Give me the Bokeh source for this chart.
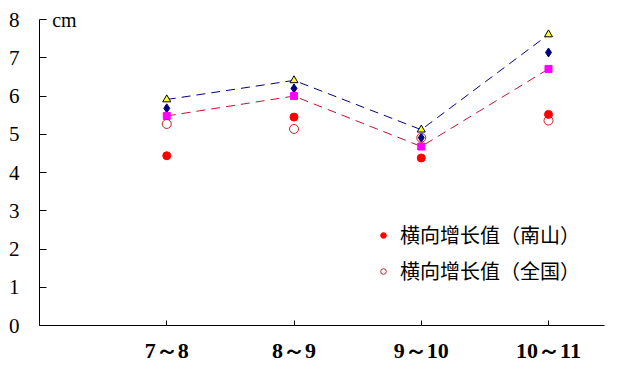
from bokeh.plotting import figure
from bokeh.models import FixedTicker, Range1d, Legend, LegendItem, Label
from bokeh.embed import file_html
from bokeh.resources import INLINE

categories = ["7～8", "8～9", "9～10", "10～11"]
xpos = [1, 2, 3, 4]
nanshan = [4.44, 5.45, 4.38, 5.52]      # 横向增长值（南山）
national = [5.27, 5.14, 4.91, 5.36]     # 横向增长值（全国）
series_tri = [5.91, 6.41, 5.12, 7.61]   # 黄色三角（蓝虚线）
series_dia = [5.68, 6.20, 4.91, 7.14]   # 深蓝菱形
series_sq = [5.48, 6.00, 4.68, 6.71]    # 品红方块（红虚线）
yticks = [0, 1, 2, 3, 4, 5, 6, 7, 8]

p = figure(width=619, height=382, output_backend="svg", toolbar_location=None,
           x_range=Range1d(0, 4.44), y_range=Range1d(0, 8.29),
           min_border_left=39, min_border_right=15, min_border_top=8, min_border_bottom=57)
p.outline_line_color = None
p.grid.grid_line_color = None
p.background_fill_color = "white"
p.border_fill_color = "white"

# lines
p.line(xpos, series_tri, line_color="#000080", line_width=1, line_dash="9 6")
p.line(xpos, series_sq, line_color="#c8102e", line_width=1, line_dash="9 6")

r_tri = p.scatter(xpos, series_tri, marker="triangle", size=8, fill_color="#ffff33",
                  line_color="black", line_width=1)
r_dia = p.scatter(xpos, series_dia, marker="diamond", size=9, fill_color="#000080",
                  line_color="#000080")
r_sq = p.scatter(xpos, series_sq, marker="square", size=7, fill_color="#ff00ff",
                 line_color="#ff00ff")
r_nat = p.scatter(xpos, national, marker="circle", size=9, fill_color=None,
                  line_color="#cc2020", line_width=1)
r_ns = p.scatter(xpos, nanshan, marker="circle", size=8, fill_color="#ff0000",
                 line_color="#ff0000")

# axes
xa = p.xaxis[0]
xa.ticker = FixedTicker(ticks=xpos)
xa.major_label_overrides = {x: c for x, c in zip(xpos, categories)}
xa.major_tick_in = 5
xa.major_tick_out = 0
xa.minor_tick_line_color = None
xa.axis_line_color = "black"
xa.major_label_standoff = 12
xa.major_label_text_font = "Liberation Serif"
xa.major_label_text_font_style = "bold"
xa.major_label_text_font_size = "22px"
xa.major_label_text_color = "black"

ya = p.yaxis[0]
ya.ticker = FixedTicker(ticks=yticks)
ya.bounds = (0, 8)
ya.major_tick_in = 7
ya.major_tick_out = 0
ya.minor_tick_line_color = None
ya.axis_line_color = "black"
ya.major_label_standoff = 20
ya.major_label_text_font = "Liberation Serif"
ya.major_label_text_font_size = "21px"
ya.major_label_text_color = "black"

p.add_layout(Label(x=0.1, y=8, text="cm", text_font="Liberation Serif", text_font_size="20px",
                   text_baseline="middle", text_color="black"))

legend = Legend(items=[LegendItem(label="横向增长值（南山）", renderers=[r_ns]),
                       LegendItem(label="横向增长值（全国）", renderers=[r_nat])],
                location=(337, 40), orientation="vertical",
                border_line_color=None, background_fill_alpha=0,
                padding=0, margin=0, spacing=7,
                glyph_width=14, glyph_height=24, label_height=24, label_standoff=10,
                label_text_font="Noto Sans CJK SC", label_text_font_size="20px",
                label_text_color="black")
p.add_layout(legend)

open("out.html", "w").write(file_html(p, INLINE))
